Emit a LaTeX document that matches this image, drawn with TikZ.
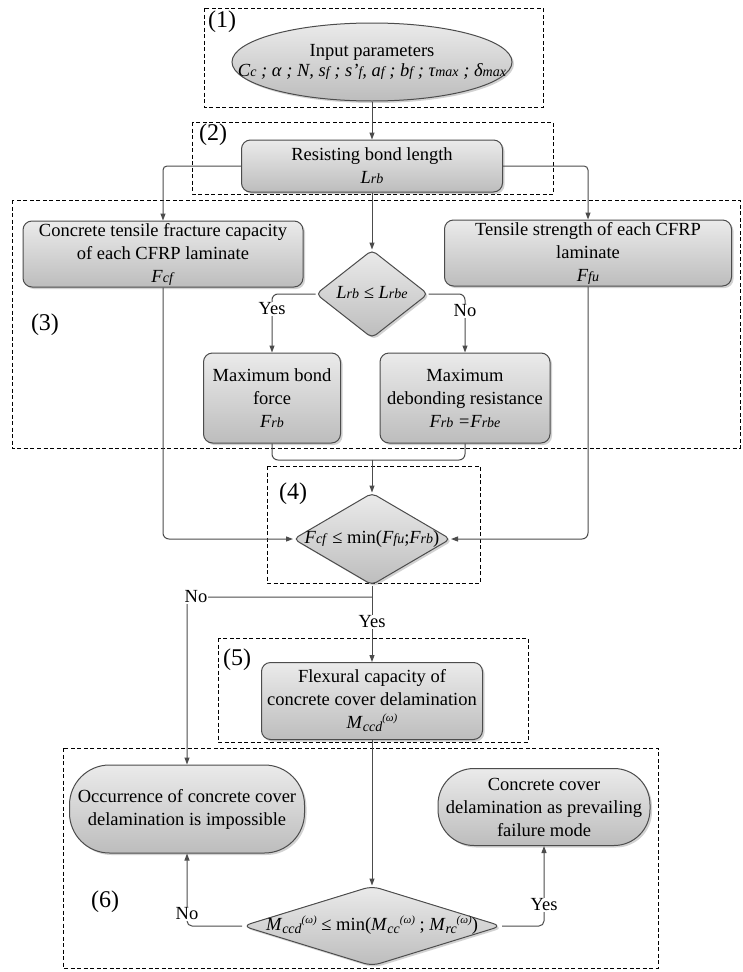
\documentclass[tikz,border=0pt]{standalone}
\usepackage{fontspec}
\setmainfont{Liberation Serif}
\usetikzlibrary{shapes.geometric,shadows,arrows.meta}
\newcommand{\mysub}[1]{{\fontsize{14}{14}\selectfont #1}}
\newcommand{\zbox}[1]{\smash{\makebox[0pt]{\raisebox{-0.55ex}{#1}}}}
\newcommand{\myM}[1]{\textit{M}\raisebox{-3pt}{\mysub{\textit{#1}}}\raisebox{7pt}{\fontsize{11}{11}\selectfont\textit{(ω)}}}
\begin{document}
\begin{tikzpicture}[x=1pt,y=-1pt,
 font=\fontsize{18.5}{23}\selectfont,
 procbox/.style={draw=black!70, line width=1pt, top color=black!8, bottom color=black!26,
   drop shadow={opacity=0.35,shadow xshift=2pt,shadow yshift=-2pt}, align=center, inner sep=2pt},
 rbox/.style={procbox, rectangle, rounded corners=9pt},
 dmd/.style={procbox, diamond, inner sep=0pt, rounded corners=5pt},
 region/.style={draw=black, line width=0.9pt, dash pattern=on 4pt off 2.5pt},
 conn/.style={draw=black!70, line width=1pt},
 arr/.style={conn, -{Triangle[length=7pt,width=5pt]}},
 lbl/.style={fill=white, inner sep=1pt},
 tag/.style={font=\fontsize{24}{24}\selectfont, inner sep=0pt}]
\fill[white] (0,0) rectangle (743,972);
\useasboundingbox (0,0) rectangle (743,972);

% dashed regions
\draw[region] (204,8) rectangle (543,107);
\draw[region] (192,122) rectangle (553,194);
\draw[region] (12,200) rectangle (740,448);
\draw[region] (267,466) rectangle (480,583);
\draw[region] (218,638) rectangle (528,742);
\draw[region] (63,748) rectangle (658,968);
\node[tag] (t1) at (222,22) {(1)};
\node[tag] (t2) at (213,135) {(2)};
\node[tag] (t3) at (45,325) {(3)};
\node[tag] (t4) at (293,494) {(4)};
\node[tag] (t5) at (237,660) {(5)};
\node[tag] (t6) at (105,902) {(6)};

% nodes
\node[ellipse, procbox, minimum width=280, minimum height=78, inner sep=0pt] (inp) at (372,62)
  {\zbox{\begin{tabular}{@{}c@{}}Input parameters\\[-3pt] \textit{C\mysub{c} ; α ; N, s\mysub{f} ; s'\mysub{f}, a\mysub{f} ; b\mysub{f} ; τ\mysub{max} ; δ\mysub{max}}\end{tabular}}};
\node[rbox, minimum width=261, minimum height=52] (lrb) at (372,166)
  {Resisting bond length\\ \textit{L\mysub{rb}}};
\node[rbox, minimum width=280, minimum height=64] (fcf) at (163,254)
  {Concrete tensile fracture capacity\\ of each CFRP laminate\\ \textit{F\mysub{cf}}};
\node[rbox, minimum width=287, minimum height=66] (ffu) at (588,253)
  {Tensile strength of each CFRP\\ laminate\\ \textit{F\mysub{fu}}};
\node[dmd, minimum width=112, minimum height=88] (d1) at (372,294)
  {\zbox{\textit{L\mysub{rb} ≤ L\mysub{rbe}}}};
\node[rbox, minimum width=137, minimum height=90] (frb) at (272,398)
  {Maximum bond\\ force\\ \textit{F\mysub{rb}}};
\node[rbox, minimum width=170, minimum height=90] (frbe) at (465,398)
  {Maximum\\ debonding resistance\\ \textit{F\mysub{rb} =F\mysub{rbe}}};
\node[dmd, minimum width=157, minimum height=92] (d2) at (372,539)
  {\zbox{\textit{F\mysub{cf}} ≤ min(\textit{F\mysub{fu}};\textit{F\mysub{rb}})}};
\node[rbox, minimum width=221, minimum height=77] (mccd) at (372,701)
  {Flexural capacity of\\ concrete cover delamination\\ \myM{ccd}};
\node[procbox, rectangle, rounded corners=40pt, minimum width=235, minimum height=88] (occ) at (187,809)
  {Occurrence of concrete cover\\ delamination is impossible};
\node[procbox, rectangle, rounded corners=36pt, minimum width=212, minimum height=77] (cc) at (544,807)
  {Concrete cover\\ delamination as prevailing\\ failure mode};
\node[dmd, rounded corners=8pt, minimum width=259, minimum height=80] (d3) at (372,926)
  {\zbox{\myM{ccd} ≤ min(\myM{cc} ; \myM{rc})}};

% connectors
\draw[arr] (inp.south) -- (lrb.north);
\draw[arr, rounded corners=4pt] (lrb.west) -| (fcf.north);
\draw[arr, rounded corners=4pt] (lrb.east) -| (ffu.north);
\draw[arr] (lrb.south) -- (d1.north);
\draw[arr, rounded corners=6pt] (d1.west) -| (frb.north);
\node[lbl] (yes1) at (272,309) {Yes};
\draw[arr, rounded corners=6pt] (d1.east) -| (frbe.north);
\node[lbl] (no1) at (465,311) {No};
\coordinate (m1) at (372,460);
\draw[conn, rounded corners=6pt] (frb.south) |- (m1);
\draw[conn, rounded corners=6pt] (frbe.south) |- (m1);
\draw[arr] (m1) -- (d2.north);
\draw[arr, rounded corners=6pt] (fcf.south) |- (d2.west);
\draw[arr, rounded corners=6pt] (ffu.south) |- (d2.east);
\draw[arr] (d2.south) -- (mccd.north);
\node[lbl] (yes2) at (372,622) {Yes};
\coordinate (nb) at (372,597);
\draw[arr, rounded corners=5pt] (nb) -| (occ.north);
\node[lbl] (no2) at (196,597) {No};
\draw[arr] (mccd.south) -- (d3.north);
\draw[arr, rounded corners=5pt] (d3.west) -| (occ.south);
\node[lbl] (no3) at (187,914) {No};
\draw[arr, rounded corners=5pt] (d3.east) -| (cc.south);
\node[lbl] (yes3) at (544,905) {Yes};
\end{tikzpicture}
\end{document}
